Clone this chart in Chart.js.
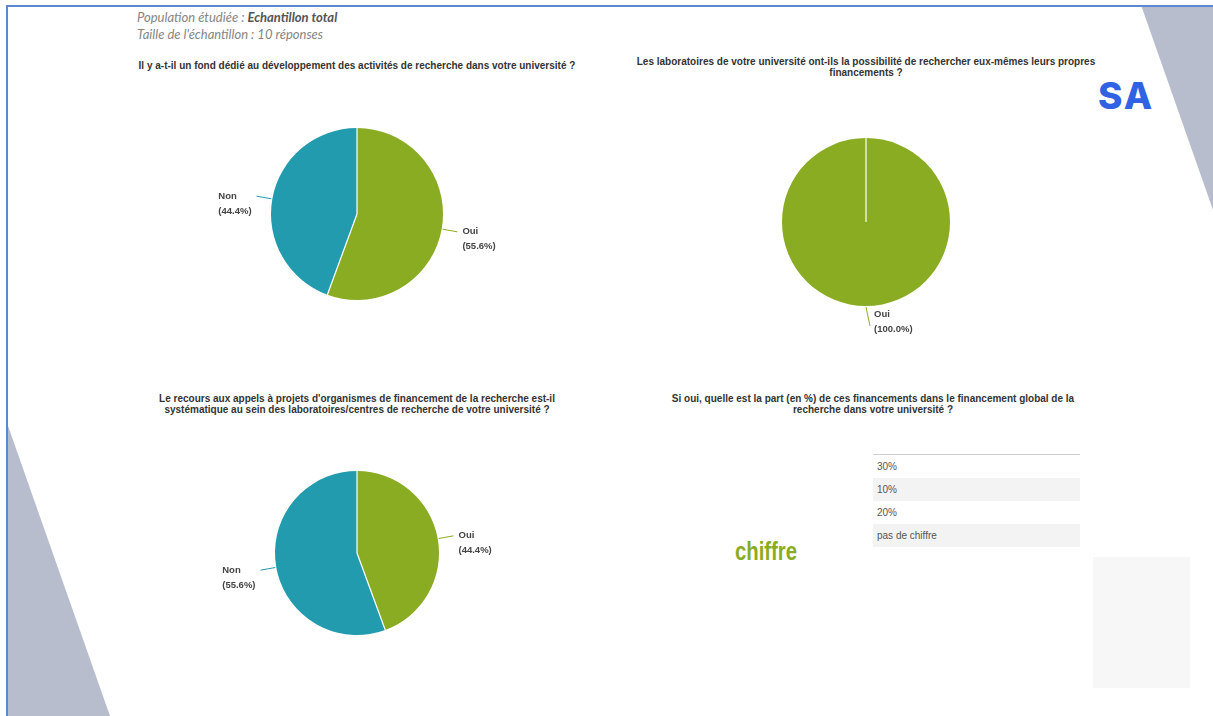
<!DOCTYPE html>
<html lang="fr">
<head>
<meta charset="utf-8">
<title>Financement de la recherche</title>
<script src="https://cdn.jsdelivr.net/npm/chart.js@4.4.1/dist/chart.umd.min.js"></script>
<style>
  body { margin: 0; width: 1213px; height: 716px; overflow: hidden; background: #fff; position: relative;
         font-family: "Liberation Sans", Arial, sans-serif; }
  #decor { position: absolute; left: 0; top: 0; }
  .frame { position: absolute; left: 6px; top: 5px; width: 1400px; height: 900px;
           border-left: 2px solid #5a88d3; border-top: 2px solid #5a88d3; }
  .head { position: absolute; left: 137px; font-family: Lato, sans-serif; font-style: italic; font-size: 13px; color: #858585; }
  .head b { color: #555; }
  .q { position: absolute; width: 560px; text-align: center; font-size: 10px; line-height: 11px; font-weight: bold; color: #333; }
  .pie { position: absolute; }
  .logo { position: absolute; left: 1098px; top: 73px; font-family: Inter, sans-serif; font-weight: 800; font-size: 37px;
          color: #2f63e3; letter-spacing: 2px; }
  .word { position: absolute; left: 735px; top: 536px; font-family: "Liberation Sans", sans-serif;
          font-weight: bold; font-size: 26px; color: #8aac22; transform: scaleX(0.78); transform-origin: left top; }
  table { position: absolute; left: 873px; top: 454px; width: 207px; border-collapse: collapse; border-top: 1px solid #cfcfcf;
          font-size: 10px; color: #555; }
  td { height: 23px; padding: 0 0 0 4px; }
  tr:nth-child(even) td { background: #f3f3f3; }
  .blank { position: absolute; left: 1093px; top: 557px; width: 97px; height: 131px; background: #f8f7f7; }
</style>
</head>
<body>
<svg id="decor" width="1213" height="716">
  <polygon points="1141,5 1213,5 1213,210" fill="#b7bdcd"/>
  <polygon points="7,423 110,716 7,716" fill="#b7bdcd"/>
</svg>
<div class="frame"></div>

<div class="head" style="top:9px">Population étudiée : <b>Echantillon total</b></div>
<div class="head" style="top:26px">Taille de l'échantillon : 10 réponses</div>

<div class="logo">SA</div>

<div class="q" style="left:77px; top:60px">Il y a-t-il un fond dédié au développement des activités de recherche dans votre université ?</div>
<div class="q" style="left:586px; top:56px">Les laboratoires de votre université ont-ils la possibilité de rechercher eux-mêmes leurs propres<br>financements ?</div>
<div class="q" style="left:77px; top:393px">Le recours aux appels à projets d'organismes de financement de la recherche est-il<br>systématique au sein des laboratoires/centres de recherche de votre université ?</div>
<div class="q" style="left:593px; top:393px">Si oui, quelle est la part (en %) de ces financements dans le financement global de la<br>recherche dans votre université ?</div>

<canvas id="pie1" class="pie" width="400" height="260" style="left:157px; top:84px"></canvas>
<canvas id="pie2" class="pie" width="400" height="260" style="left:666px; top:92px"></canvas>
<canvas id="pie3" class="pie" width="400" height="260" style="left:157px; top:423px"></canvas>

<div class="word">chiffre</div>
<table id="parts"></table>
<div class="blank"></div>

<script>
// réponses (en %)
const fondLabels = ['Oui', 'Non'];
const fondValues = [55.6, 44.4];

const laboLabels = ['Oui'];
const laboValues = [100.0];

const appelsLabels = ['Oui', 'Non'];
const appelsValues = [44.4, 55.6];

const partRows = ['30%', '10%', '20%', 'pas de chiffre'];

const green = '#8aac22';
const teal = '#229bae';

const table = document.getElementById('parts');
partRows.forEach(r => {
  const tr = document.createElement('tr');
  tr.innerHTML = '<td>' + r + '</td>';
  table.appendChild(tr);
});

// separators + outside labels with leader lines
const pieLabels = {
  id: 'pieLabels',
  afterDatasetsDraw(chart) {
    const ctx = chart.ctx;
    const ds = chart.data.datasets[0];
    const arcs = chart.getDatasetMeta(0).data;
    ctx.save();
    arcs.forEach(arc => {
      const p = arc.getProps(['x', 'y', 'startAngle', 'outerRadius'], true);
      ctx.strokeStyle = '#fff';
      ctx.lineWidth = 1.2;
      ctx.beginPath();
      ctx.moveTo(p.x, p.y);
      ctx.lineTo(p.x + Math.cos(p.startAngle) * p.outerRadius, p.y + Math.sin(p.startAngle) * p.outerRadius);
      ctx.stroke();
    });
    ctx.font = 'bold 9.5px "Liberation Sans", Arial, sans-serif';
    ctx.textBaseline = 'middle';
    ctx.textAlign = 'left';
    arcs.forEach((arc, i) => {
      const p = arc.getProps(['x', 'y', 'startAngle', 'endAngle', 'outerRadius'], true);
      const mid = (p.startAngle + p.endAngle) / 2;
      const c = Math.cos(mid), s = Math.sin(mid);
      const x0 = p.x + c * (p.outerRadius + 1), y0 = p.y + s * (p.outerRadius + 1);
      let x1, y1, tx, ty;
      const l1 = chart.data.labels[i];
      const l2 = '(' + ds.data[i].toFixed(1) + '%)';
      const w = Math.max(ctx.measureText(l1).width, ctx.measureText(l2).width);
      if (Math.abs(c) < 0.3) {
        x1 = x0 + 4; y1 = y0 + 19;
        tx = x1 + 4; ty = y1 - 12;
      } else {
        x1 = x0 + c * 15; y1 = y0 + s * 15;
        tx = c > 0 ? x1 + 5 : x1 - 5 - w; ty = y1;
      }
      ctx.strokeStyle = ds.backgroundColor[i];
      ctx.lineWidth = 1;
      ctx.beginPath();
      ctx.moveTo(x0, y0);
      ctx.lineTo(x1, y1);
      ctx.stroke();
      ctx.fillStyle = '#444';
      ctx.fillText(l1, tx, ty);
      ctx.fillText(l2, tx, ty + 15);
    });
    ctx.restore();
  }
};

function makePie(id, labels, values, colors, radius) {
  new Chart(document.getElementById(id), {
    type: 'pie',
    data: {
      labels: labels,
      datasets: [{ data: values, backgroundColor: colors, borderWidth: 0, radius: radius }]
    },
    options: {
      responsive: false,
      animation: false,
      layout: { padding: 0 },
      plugins: { legend: { display: false }, tooltip: { enabled: false } }
    },
    plugins: [pieLabels]
  });
}

makePie('pie1', fondLabels, fondValues, [green, teal], 86);
makePie('pie2', laboLabels, laboValues, [green], 84);
makePie('pie3', appelsLabels, appelsValues, [green, teal], 82);
</script>
</body>
</html>
